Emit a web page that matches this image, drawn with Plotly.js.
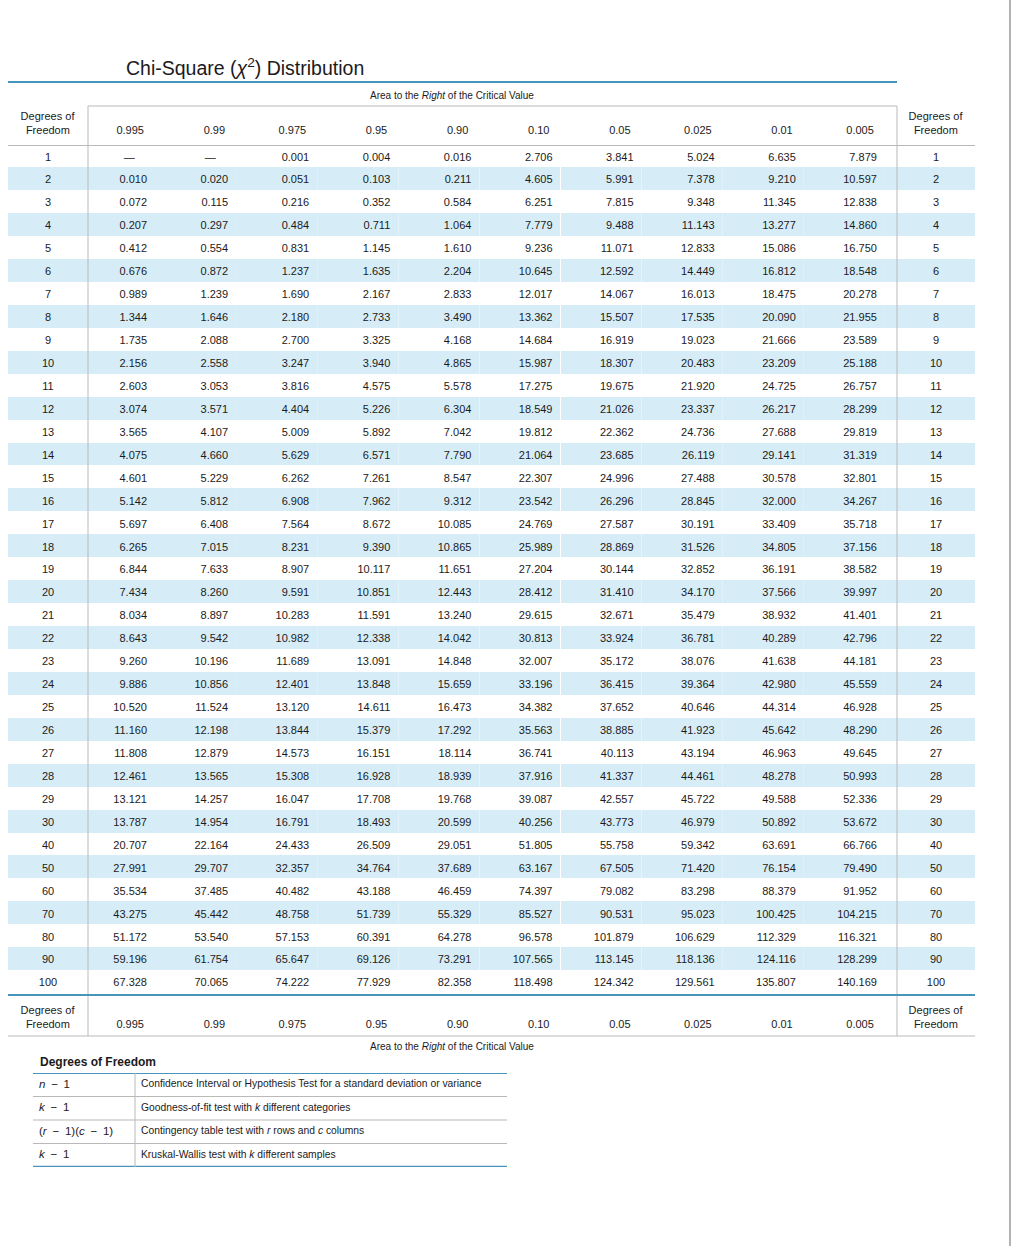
<!DOCTYPE html>
<html><head><meta charset="utf-8">
<script src="https://cdn.plot.ly/plotly-3.0.1.min.js"></script>
<style>html,body{margin:0;padding:0;background:#fff}</style>
</head><body><div id="chart" style="width:1012px;height:1246px"></div>
<script>
// ---------- data ----------
const dof = [1,2,3,4,5,6,7,8,9,10,11,12,13,14,15,16,17,18,19,20,21,22,23,24,25,26,27,28,29,30,40,50,60,70,80,90,100];
const areaLabels = ['0.995','0.99','0.975','0.95','0.90','0.10','0.05','0.025','0.01','0.005'];

const chi0995 = [null,0.010,0.072,0.207,0.412,0.676,0.989,1.344,1.735,2.156,2.603,3.074,3.565,4.075,4.601,5.142,5.697,6.265,6.844,7.434,8.034,8.643,9.260,9.886,10.520,11.160,11.808,12.461,13.121,13.787,20.707,27.991,35.534,43.275,51.172,59.196,67.328];
const chi0990 = [null,0.020,0.115,0.297,0.554,0.872,1.239,1.646,2.088,2.558,3.053,3.571,4.107,4.660,5.229,5.812,6.408,7.015,7.633,8.260,8.897,9.542,10.196,10.856,11.524,12.198,12.879,13.565,14.257,14.954,22.164,29.707,37.485,45.442,53.540,61.754,70.065];
const chi0975 = [0.001,0.051,0.216,0.484,0.831,1.237,1.690,2.180,2.700,3.247,3.816,4.404,5.009,5.629,6.262,6.908,7.564,8.231,8.907,9.591,10.283,10.982,11.689,12.401,13.120,13.844,14.573,15.308,16.047,16.791,24.433,32.357,40.482,48.758,57.153,65.647,74.222];
const chi0950 = [0.004,0.103,0.352,0.711,1.145,1.635,2.167,2.733,3.325,3.940,4.575,5.226,5.892,6.571,7.261,7.962,8.672,9.390,10.117,10.851,11.591,12.338,13.091,13.848,14.611,15.379,16.151,16.928,17.708,18.493,26.509,34.764,43.188,51.739,60.391,69.126,77.929];
const chi0900 = [0.016,0.211,0.584,1.064,1.610,2.204,2.833,3.490,4.168,4.865,5.578,6.304,7.042,7.790,8.547,9.312,10.085,10.865,11.651,12.443,13.240,14.042,14.848,15.659,16.473,17.292,18.114,18.939,19.768,20.599,29.051,37.689,46.459,55.329,64.278,73.291,82.358];
const chi0100 = [2.706,4.605,6.251,7.779,9.236,10.645,12.017,13.362,14.684,15.987,17.275,18.549,19.812,21.064,22.307,23.542,24.769,25.989,27.204,28.412,29.615,30.813,32.007,33.196,34.382,35.563,36.741,37.916,39.087,40.256,51.805,63.167,74.397,85.527,96.578,107.565,118.498];
const chi0050 = [3.841,5.991,7.815,9.488,11.071,12.592,14.067,15.507,16.919,18.307,19.675,21.026,22.362,23.685,24.996,26.296,27.587,28.869,30.144,31.410,32.671,33.924,35.172,36.415,37.652,38.885,40.113,41.337,42.557,43.773,55.758,67.505,79.082,90.531,101.879,113.145,124.342];
const chi0025 = [5.024,7.378,9.348,11.143,12.833,14.449,16.013,17.535,19.023,20.483,21.920,23.337,24.736,26.119,27.488,28.845,30.191,31.526,32.852,34.170,35.479,36.781,38.076,39.364,40.646,41.923,43.194,44.461,45.722,46.979,59.342,71.420,83.298,95.023,106.629,118.136,129.561];
const chi0010 = [6.635,9.210,11.345,13.277,15.086,16.812,18.475,20.090,21.666,23.209,24.725,26.217,27.688,29.141,30.578,32.000,33.409,34.805,36.191,37.566,38.932,40.289,41.638,42.980,44.314,45.642,46.963,48.278,49.588,50.892,63.691,76.154,88.379,100.425,112.329,124.116,135.807];
const chi0005 = [7.879,10.597,12.838,14.860,16.750,18.548,20.278,21.955,23.589,25.188,26.757,28.299,29.819,31.319,32.801,34.267,35.718,37.156,38.582,39.997,41.401,42.796,44.181,45.559,46.928,48.290,49.645,50.993,52.336,53.672,66.766,79.490,91.952,104.215,116.321,128.299,140.169];

const dfFormulas = ['<i>n</i>\u2002\u2212\u20021', '<i>k</i>\u2002\u2212\u20021', '(<i>r</i>\u2002\u2212\u20021)(<i>c</i>\u2002\u2212\u20021)', '<i>k</i>\u2002\u2212\u20021'];
const dfUses = [
  'Confidence Interval or Hypothesis Test for a standard deviation or variance',
  'Goodness-of-fit test with <i>k</i> different categories',
  'Contingency table test with <i>r</i> rows and <i>c</i> columns',
  'Kruskal-Wallis test with <i>k</i> different samples'
];

// ---------- build ----------
const W = 1012, H = 1246;
const px = x => x / W, py = y => 1 - y / H;
const FONT = 'Liberation Sans, Arial, sans-serif';
const TXT = '#1c1a1b';
const BLUE = '#d6edf8';
const GRAY = '#b9b9b9';
const TEAL = '#4596ba';

const valueCols = [chi0995, chi0990, chi0975, chi0950, chi0900, chi0100, chi0050, chi0025, chi0010, chi0005];
const fmt = v => v === null ? '\u2014\u00a0\u00a0\u00a0\u00a0' : v.toFixed(3);
const dofText = dof.map(String);
const blank = dof.map(() => '');
const rowColors = dof.map((d, i) => i % 2 === 1 ? BLUE : '#ffffff');

const colWidths = [80, 67, 81.1, 81.1, 81.1, 81.1, 81.1, 81.1, 81.1, 81.1, 81.1, 12.1, 78];
const aligns = ['center', 'right','right','right','right','right','right','right','right','right','right', 'center', 'center'];
const dofHead = 'Degrees of<br>\u00a0\u2009Freedom';
const headVals = [dofHead].concat(areaLabels.map(l => '\u00a0<br>' + l + '\u00a0'), [''], [dofHead]);

const mainTable = {
  type: 'table',
  domain: {x: [px(8), px(975)], y: [0, py(102)]},
  columnwidth: colWidths,
  header: {
    values: headVals,
    align: aligns,
    height: 39,
    fill: {color: '#ffffff'},
    line: {width: 0, color: '#ffffff'},
    font: {family: FONT, size: 11, color: TXT}
  },
  cells: {
    values: [dofText].concat(valueCols.map(c => c.map(fmt)), [blank], [dofText]),
    align: aligns,
    height: 22.94,
    fill: {color: [rowColors]},
    line: {width: 0, color: '#ffffff'},
    font: {family: FONT, size: 11, color: TXT}
  }
};

const footTable = {
  type: 'table',
  domain: {x: [px(8), px(975)], y: [0, py(995.5)]},
  columnwidth: colWidths,
  header: {
    values: headVals,
    align: aligns,
    height: 40,
    fill: {color: '#ffffff'},
    line: {width: 0, color: '#ffffff'},
    font: {family: FONT, size: 11, color: TXT}
  },
  cells: {values: []}
};

const rowIdx = dfFormulas.map((_, i) => i);
const legendLeft = {
  type: 'scatter', mode: 'text', x: dfFormulas.map(() => 6), y: rowIdx,
  text: dfFormulas, textposition: 'middle right',
  textfont: {family: FONT, size: 11.5, color: TXT}, hoverinfo: 'skip', showlegend: false
};
const legendRight = {
  type: 'scatter', mode: 'text', x: dfUses.map(() => 108), y: rowIdx,
  text: dfUses, textposition: 'middle right',
  textfont: {family: FONT, size: 10.3, color: TXT}, hoverinfo: 'skip', showlegend: false
};

const shapes = [];
const line = (x0, y0, x1, y1, color, width) => shapes.push({type: 'line', xref: 'paper', yref: 'paper', x0: px(x0), y0: py(y0), x1: px(x1), y1: py(y1), line: {color, width}});
line(8, 82, 897, 82, TEAL, 2);          // under title
line(88, 106, 897, 106, GRAY, 1);       // header box top
line(88, 106, 88, 1036, GRAY, 1);       // left divider
line(897, 106, 897, 1036, GRAY, 1);     // right divider
line(8, 145.5, 975, 145.5, GRAY, 1);    // header bottom
line(8, 995, 975, 995, TEAL, 2);        // end of rows
line(8, 1036, 975, 1036, GRAY, 1);      // footer bottom
line(1010, 0, 1010, 1246, '#9a9a9a', 1.5); // page edge

// legend table lines in its own axes
const L = (x0, y0, x1, y1, color, width) => shapes.push({type: 'line', xref: 'x', yref: 'y', x0, y0, x1, y1, line: {color, width}});
L(0, -0.5, 474, -0.5, TEAL, 2);
rowIdx.slice(0, -1).forEach(i => L(0, i + 0.5, 474, i + 0.5, GRAY, 1));
L(0, rowIdx.length - 0.5, 474, rowIdx.length - 0.5, TEAL, 2.5);
L(102, -0.5, 102, rowIdx.length - 0.5, GRAY, 1);

const annotations = [
  {text: 'Chi-Square (<i>\u03c7</i><sup>2</sup>) Distribution', xref: 'paper', yref: 'paper', x: px(124), y: py(67), xanchor: 'left', yanchor: 'middle', showarrow: false, font: {family: FONT, size: 19.5, color: TXT}},
  {text: 'Area to the <i>Right</i> of the Critical Value', xref: 'paper', yref: 'paper', x: px(452), y: py(95), xanchor: 'center', yanchor: 'middle', showarrow: false, font: {family: FONT, size: 10, color: TXT}},
  {text: 'Area to the <i>Right</i> of the Critical Value', xref: 'paper', yref: 'paper', x: px(452), y: py(1046), xanchor: 'center', yanchor: 'middle', showarrow: false, font: {family: FONT, size: 10, color: TXT}},
  {text: '<b>Degrees of Freedom</b>', xref: 'paper', yref: 'paper', x: px(38), y: py(1062), xanchor: 'left', yanchor: 'middle', showarrow: false, font: {family: FONT, size: 12, color: TXT}}
];

const layout = {
  width: W, height: H,
  margin: {l: 0, r: 0, t: 0, b: 0},
  paper_bgcolor: '#ffffff', plot_bgcolor: 'rgba(0,0,0,0)',
  showlegend: false,
  xaxis: {domain: [px(33), px(507)], range: [0, 474], visible: false, fixedrange: true},
  yaxis: {domain: [py(1167), py(1073)], range: [rowIdx.length - 0.5, -0.5], visible: false, fixedrange: true},
  shapes, annotations
};

Plotly.newPlot('chart', [mainTable, footTable, legendLeft, legendRight], layout, {displayModeBar: false, staticPlot: true});
</script></body></html>
